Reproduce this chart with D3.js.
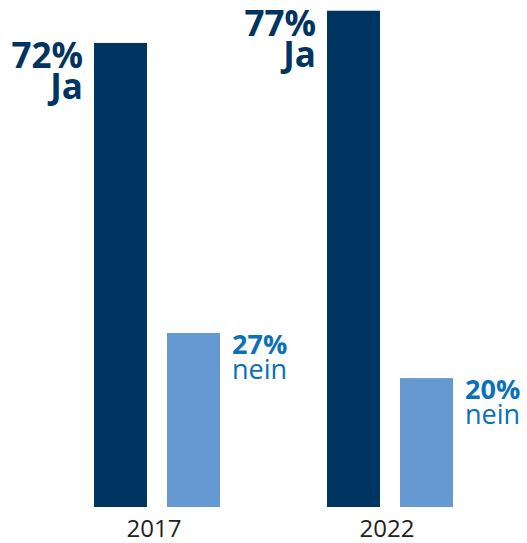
<!DOCTYPE html>
<html>
<head>
<meta charset="utf-8">
<script src="https://cdn.jsdelivr.net/npm/d3@7"></script>
<style>
  html, body { margin: 0; padding: 0; background: #fff; }
  svg { display: block; }
</style>
</head>
<body>
<svg id="chart" width="527" height="543"></svg>
<script>
const years = ["2017", "2022"];
const series = ["Ja", "nein"];
const jaValues = [72, 77];
const neinValues = [27, 20];
const seriesLabels = ["Ja", "nein"];

const colors = { Ja: "#003461", nein: "#6699d2" };
const labelColors = { Ja: "#003461", nein: "#0a70b8" };

const data = [];
years.forEach((y, i) => {
  data.push({ year: y, series: "Ja", value: jaValues[i] });
  data.push({ year: y, series: "nein", value: neinValues[i] });
});

const svg = d3.select("#chart");
const baseY = 507;

const x0 = d3.scaleBand().domain(years).range([94, 453]).paddingInner(107 / 233).paddingOuter(0);
const x1 = d3.scaleBand().domain(series).range([0, x0.bandwidth()]).paddingInner(20 / 73).paddingOuter(0);
const y = d3.scaleLinear().domain([0, 100]).range([baseY, baseY - 644.5]);

const font = "'Open Sans', 'Noto Sans', sans-serif";

svg.selectAll("rect.bar")
  .data(data)
  .join("rect")
  .attr("class", "bar")
  .attr("x", d => x0(d.year) + x1(d.series))
  .attr("y", d => y(d.value))
  .attr("width", x1.bandwidth())
  .attr("height", d => y(0) - y(d.value))
  .attr("fill", d => colors[d.series]);

// Ja labels: left of bar, right-aligned
const jaData = data.filter(d => d.series === "Ja");
const jaG = svg.selectAll("g.ja")
  .data(jaData)
  .join("g")
  .attr("class", "ja");
jaG.append("text")
  .attr("text-anchor", "end")
  .attr("font-family", font)
  .attr("font-weight", 700)
  .attr("font-size", 35)
  .attr("fill", labelColors.Ja)
  .attr("x", d => x0(d.year) + x1("Ja") - 11)
  .attr("y", d => y(d.value) + 25)
  .text(d => d.value + "%");
jaG.append("text")
  .attr("text-anchor", "end")
  .attr("font-family", font)
  .attr("font-weight", 700)
  .attr("font-size", 35)
  .attr("fill", labelColors.Ja)
  .attr("x", d => x0(d.year) + x1("Ja") - 11)
  .attr("y", d => y(d.value) + 56)
  .text(seriesLabels[0]);

// nein labels: right of bar
const neinData = data.filter(d => d.series === "nein");
const neinG = svg.selectAll("g.nein")
  .data(neinData)
  .join("g")
  .attr("class", "nein");
neinG.append("text")
  .attr("x", d => x0(d.year) + x1("nein") + x1.bandwidth() + 12)
  .attr("y", d => y(d.value) + 21)
  .attr("font-family", font)
  .attr("font-weight", 700)
  .attr("font-size", 27)
  .attr("fill", labelColors.nein)
  .text(d => d.value + "%");
neinG.append("text")
  .attr("x", d => x0(d.year) + x1("nein") + x1.bandwidth() + 12)
  .attr("y", d => y(d.value) + 46)
  .attr("font-family", font)
  .attr("font-weight", 400)
  .attr("font-size", 27)
  .attr("fill", labelColors.nein)
  .text(seriesLabels[1]);

// x axis labels
const xAxis = d3.axisBottom(x0).tickSize(0).tickPadding(0);
const axisG = svg.append("g").attr("transform", `translate(0,${baseY})`).call(xAxis);
axisG.select(".domain").remove();
axisG.selectAll("text")
  .attr("font-family", font)
  .attr("font-size", 24)
  .attr("fill", "#222")
  .attr("dy", null)
  .attr("dx", -3)
  .attr("y", 30);
</script>
</body>
</html>
